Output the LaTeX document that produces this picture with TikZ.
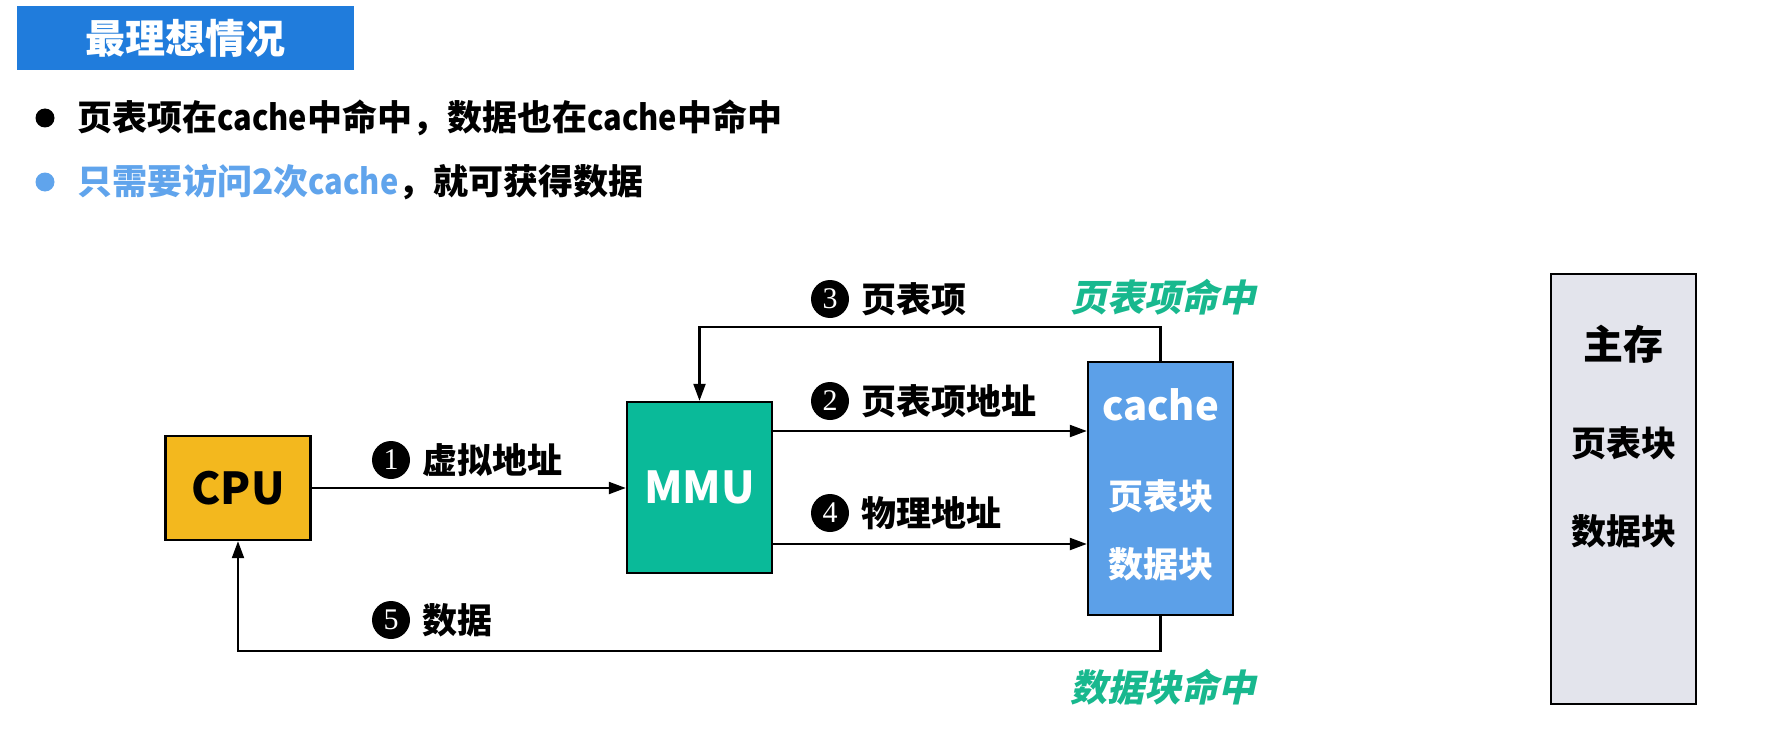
\documentclass[tikz,border=0pt]{standalone}
\usepackage{fontspec}
\setmainfont{Noto Sans CJK SC}
\newfontfamily\hitfont[FakeSlant=0.22]{Noto Sans CJK SC}
\newfontfamily\narrowfont[FakeStretch=0.88]{Noto Sans CJK SC}
\newfontfamily\numfont{Liberation Serif}
\usetikzlibrary{arrows.meta,positioning}
\definecolor{titleblue}{RGB}{32,124,220}
\definecolor{softblue}{RGB}{96,164,236}
\definecolor{cpuyellow}{RGB}{243,184,30}
\definecolor{mmugreen}{RGB}{10,186,153}
\definecolor{cacheblue}{RGB}{92,160,232}
\definecolor{memgray}{RGB}{227,228,236}
\definecolor{hitgreen}{RGB}{24,184,142}
\newcommand{\cachewd}{{\narrowfont\bfseries cache}}
\tikzset{unit/.style={draw, line width=2.4pt, minimum width=145pt, inner sep=0pt}}
\tikzset{arr/.style={line width=2.2pt, -{Triangle[length=17pt, width=12pt]}}}
\tikzset{num/.style={circle, fill=black, text=white, inner sep=0pt, minimum size=38pt, font=\numfont\fontsize{30}{30}\selectfont}}
\tikzset{lbl/.style={inner sep=0pt, font=\bfseries\fontsize{35}{40}\selectfont}}
\tikzset{hit/.style={inner sep=0pt, text=hitgreen, font=\hitfont\bfseries\fontsize{37}{37}\selectfont}}
\tikzset{dot/.style={circle, minimum size=19pt, inner sep=0pt}}

\begin{document}
\begin{tikzpicture}[x=1pt, y=-1pt, font=\bfseries]
\path [use as bounding box] (0,0) rectangle (1780,741);
% heading and bullets
\node [fill=titleblue, text=white, minimum width=337pt, minimum height=64pt, font=\bfseries\fontsize{40}{40}\selectfont] (title) at (185.5,38) {最理想情况};
\node [dot, fill=black] (dot1) at (45,118) {};
\node [dot, fill=softblue] (dot2) at (45,182) {};
\node [lbl, anchor=west] (line1) at (77,118) {页表项在\cachewd 中命中，数据也在\cachewd 中命中};
\node [lbl, anchor=west] (line2) at (77,182) {\textcolor{softblue}{只需要访问2次\cachewd}，就可获得数据};

% units
\node [unit, fill=cpuyellow, minimum height=104pt, font=\bfseries\fontsize{44}{44}\selectfont] (cpu) at (238,488) {CPU};
\node [unit, fill=mmugreen, text=white, minimum height=171pt, font=\bfseries\fontsize{44}{44}\selectfont] (mmu) at (699.5,487.5) {MMU};
\node [unit, fill=cacheblue, minimum height=253pt] (cache) at (1160.5,488.5) {};
\node [unit, fill=memgray, minimum height=430pt] (mem) at (1623.5,489) {};
\foreach \y/\t/\s [count=\i] in {405/cache/40, 496/页表块/35, 564/数据块/35} {
  \node [text=white, inner sep=0pt, font=\bfseries\fontsize{\s}{\s}\selectfont] (cachetxt\i) at (cache.center |- 0,\y) {\t};
}
\foreach \y/\t/\s [count=\i] in {344/主存/40, 443/页表块/35, 531/数据块/35} {
  \node [inner sep=0pt, font=\bfseries\fontsize{\s}{\s}\selectfont] (memtxt\i) at (mem.center |- 0,\y) {\t};
}

% connectors
\draw [arr] (cpu.east) -- (cpu.east -| mmu.west);
\draw [arr] ([yshift=56.5pt]mmu.east) -- ([yshift=56.5pt]mmu.east -| cache.west);
\draw [arr] ([yshift=-56.5pt]mmu.east) -- ([yshift=-56.5pt]mmu.east -| cache.west);
\draw [arr] (cache.north) -- ++(0,-34) -| (mmu.north);
\draw [arr] (cache.south) -- ++(0,35) -| (cpu.south);

% step labels
\foreach \i/\x/\y/\t in {1/391/460/虚拟地址, 2/830/401/页表项地址, 3/830/299/页表项, 4/830/513/物理地址, 5/391/620/数据} {
  \node [num] (num\i) at (\x,\y) {\i};
  \node [lbl, right=12pt of num\i] (lbl\i) {\t};
}
\node [hit] (hit1) at (1163,297) {页表项命中};
\node [hit] (hit2) at (1163,687) {数据块命中};
\end{tikzpicture}
\end{document}
